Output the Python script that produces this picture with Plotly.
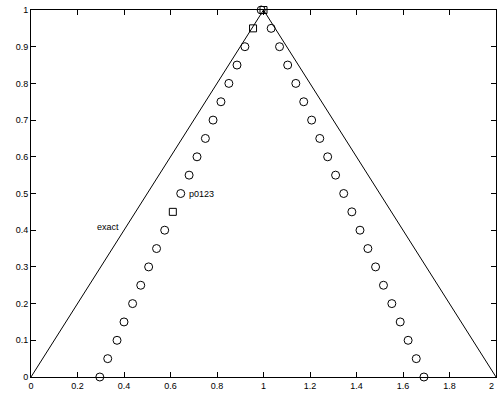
import plotly.graph_objects as go

# exact solution (triangle hat)
exact_x = [0.0, 1.0, 2.0]
exact_y = [0.0, 1.0, 0.0]

# numerical front, left branch (circles)
left_y = [0.0, 0.05, 0.1, 0.15, 0.2, 0.25, 0.3, 0.35, 0.4, 0.5,
          0.55, 0.6, 0.65, 0.7, 0.75, 0.8, 0.85, 0.9, 1.0]
left_x = [0.296, 0.33, 0.37, 0.40, 0.437, 0.472, 0.506, 0.54, 0.575, 0.644,
          0.68, 0.714, 0.75, 0.783, 0.817, 0.851, 0.886, 0.92, 0.99]

# numerical front, right branch (circles)
right_y = [0.95, 0.9, 0.85, 0.8, 0.75, 0.7, 0.65, 0.6, 0.55, 0.5,
           0.45, 0.4, 0.35, 0.3, 0.25, 0.2, 0.15, 0.1, 0.05, 0.0]
right_x = [1.033, 1.069, 1.104, 1.139, 1.173, 1.207, 1.242, 1.276, 1.31, 1.345,
           1.38, 1.415, 1.449, 1.482, 1.516, 1.552, 1.588, 1.622, 1.657, 1.69]

# points marked with squares
sq_x = [0.61, 0.955, 1.0]
sq_y = [0.45, 0.95, 1.0]

x_ticks = [0, 0.2, 0.4, 0.6, 0.8, 1, 1.2, 1.4, 1.6, 1.8, 2]
x_labels = ["0", "0.2", "0.4", "0.6", "0.8", "1", "1.2", "1.4", "1.6", "1.8", "2"]
y_ticks = [0, 0.1, 0.2, 0.3, 0.4, 0.5, 0.6, 0.7, 0.8, 0.9, 1]
y_labels = ["0", "0.1", "0.2", "0.3", "0.4", "0.5", "0.6", "0.7", "0.8", "0.9", "1"]

font = dict(family="Liberation Sans, Arial, sans-serif", size=9, color="black")

fig = go.Figure()
fig.add_trace(go.Scatter(x=exact_x, y=exact_y, mode="lines",
                         line=dict(color="black", width=1), hoverinfo="skip"))
circle = dict(symbol="circle-open", size=8, color="black", line=dict(width=1))
fig.add_trace(go.Scatter(x=left_x, y=left_y, mode="markers", marker=circle,
                         cliponaxis=False))
fig.add_trace(go.Scatter(x=right_x, y=right_y, mode="markers", marker=circle,
                         cliponaxis=False))
fig.add_trace(go.Scatter(x=sq_x, y=sq_y, mode="markers", cliponaxis=False,
                         marker=dict(symbol="square-open", size=7, color="black",
                                     line=dict(width=1))))

fig.add_annotation(x=0.386, y=0.41, text="exact", showarrow=False,
                   xanchor="right", yanchor="middle", font=font)
fig.add_annotation(x=0.67, y=0.5, text="p0123", showarrow=False,
                   xanchor="left", yanchor="middle", font=font)
# the last x tick label sits on the figure's right edge, so it is
# right-aligned to its tick to stay inside the page
fig.add_annotation(x=x_ticks[-1], y=0, yref="paper", text=x_labels[-1],
                   showarrow=False, xanchor="right", yanchor="top", yshift=-2,
                   font=font)

axis_common = dict(showgrid=False, zeroline=False, showline=True, linecolor="black",
                   linewidth=1, mirror="ticks", ticks="inside", ticklen=5,
                   tickcolor="black", tickfont=font)
fig.update_xaxes(range=[0, 2], tickvals=x_ticks,
                 ticktext=x_labels[:-1] + [""], **axis_common)
fig.update_yaxes(range=[0, 1], tickvals=y_ticks, ticktext=y_labels, **axis_common)

fig.update_layout(width=497, height=396, showlegend=False,
                  margin=dict(l=31, r=1, t=10, b=19),
                  plot_bgcolor="white", paper_bgcolor="white")

fig.write_html("out.html")
